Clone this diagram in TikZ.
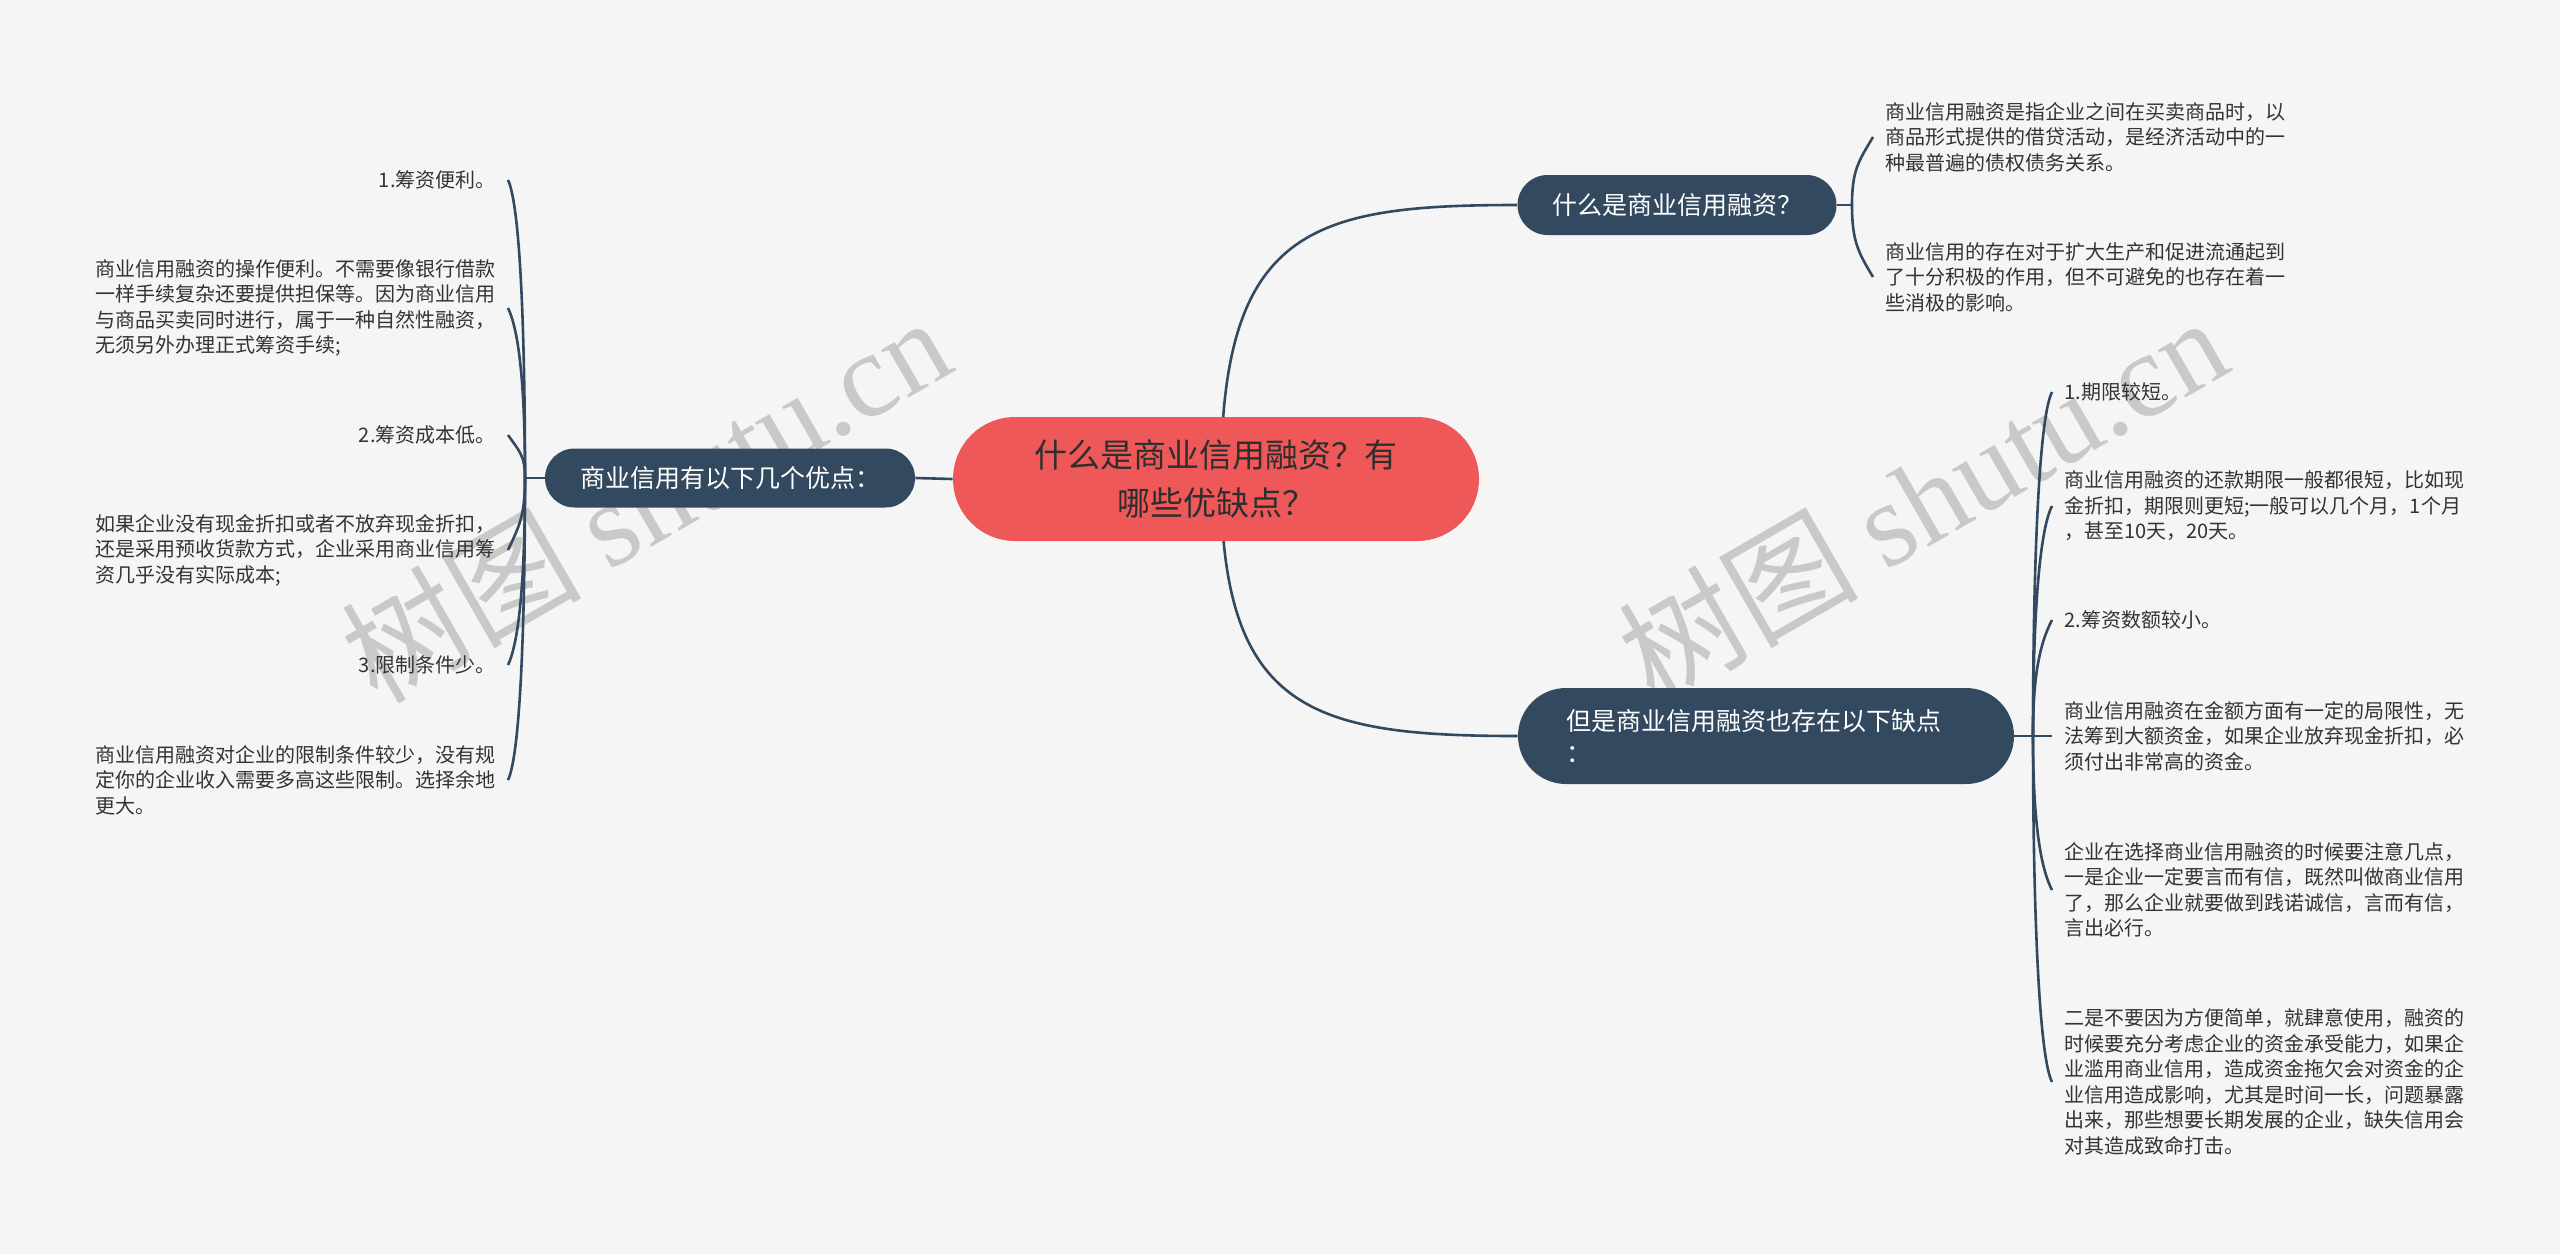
\documentclass[tikz,border=0pt]{standalone}
\usepackage{fontspec}
\setmainfont{Noto Sans CJK SC}
\newfontfamily\wmlat{Liberation Serif}
\usetikzlibrary{backgrounds}
\definecolor{bgc}{HTML}{F5F5F5}
\definecolor{rootred}{HTML}{EF5858}
\definecolor{roottext}{HTML}{2E2E2E}
\definecolor{navy}{HTML}{334960}
\definecolor{leafc}{HTML}{333333}
\definecolor{wmc}{HTML}{C9C9C9}
\tikzset{
  rootbox/.style={fill=rootred, text=roottext, minimum width=263pt, minimum height=62pt,
    rounded corners=31pt, align=center, inner sep=0pt, font=\fontsize{16.5}{24}\selectfont},
  mainbox/.style={fill=navy, text=white, inner sep=0pt, font=\fontsize{12.5}{16}\selectfont},
  leaf/.style={text=leafc, inner xsep=6pt, inner ysep=0pt, align=left, font=\fontsize{10}{12.75}\selectfont},
  link/.style={draw=navy, line width=1.3pt},
  wm/.style={text=wmc, rotate=30, inner sep=0pt, font=\fontsize{60}{60}\selectfont},
}
\begin{document}
\begin{tikzpicture}[x=0.5pt,y=-0.5pt]
\useasboundingbox (0,0) rectangle (2560,1254);
% central
\node[rootbox] (root) at (1216,479) {什么是商业信用融资？有\\哪些优缺点？};
% main topics
\node[mainbox, minimum width=159.5pt, minimum height=30pt, rounded corners=15pt] (what) at (1677,205) {什么是商业信用融资？};
\node[mainbox, minimum width=185pt, minimum height=29.5pt, rounded corners=14.75pt] (adv) at (730,478) {商业信用有以下几个优点：};
\node[mainbox, minimum width=248pt, minimum height=48pt, rounded corners=24pt, text width=200pt, align=left] (dis) at (1766,736) {但是商业信用融资也存在以下缺点\\：};
% left leaves
\node[leaf, anchor=east] (a1) at (508,180) {1.筹资便利。};
\node[leaf, anchor=east] (a2) at (508,308) {商业信用融资的操作便利。不需要像银行借款\\一样手续复杂还要提供担保等。因为商业信用\\与商品买卖同时进行，属于一种自然性融资，\\无须另外办理正式筹资手续;};
\node[leaf, anchor=east] (a3) at (508,435) {2.筹资成本低。};
\node[leaf, anchor=east] (a4) at (508,550) {如果企业没有现金折扣或者不放弃现金折扣，\\还是采用预收货款方式，企业采用商业信用筹\\资几乎没有实际成本;};
\node[leaf, anchor=east] (a5) at (508,665) {3.限制条件少。};
\node[leaf, anchor=east] (a6) at (508,780) {商业信用融资对企业的限制条件较少，没有规\\定你的企业收入需要多高这些限制。选择余地\\更大。};
% top right leaves
\node[leaf, anchor=west] (w1) at (1873,137) {商业信用融资是指企业之间在买卖商品时，以\\商品形式提供的借贷活动，是经济活动中的一\\种最普遍的债权债务关系。};
\node[leaf, anchor=west] (w2) at (1873,277) {商业信用的存在对于扩大生产和促进流通起到\\了十分积极的作用，但不可避免的也存在着一\\些消极的影响。};
% bottom right leaves
\node[leaf, anchor=west] (d1) at (2052,392) {1.期限较短。};
\node[leaf, anchor=west] (d2) at (2052,506) {商业信用融资的还款期限一般都很短，比如现\\金折扣，期限则更短;一般可以几个月，1个月\\，甚至10天，20天。};
\node[leaf, anchor=west] (d3) at (2052,620) {2.筹资数额较小。};
\node[leaf, anchor=west] (d4) at (2052,736) {商业信用融资在金额方面有一定的局限性，无\\法筹到大额资金，如果企业放弃现金折扣，必\\须付出非常高的资金。};
\node[leaf, anchor=west] (d5) at (2052,890) {企业在选择商业信用融资的时候要注意几点，\\一是企业一定要言而有信，既然叫做商业信用\\了，那么企业就要做到践诺诚信，言而有信，\\言出必行。};
\node[leaf, anchor=west] (d6) at (2052,1082) {二是不要因为方便简单，就肆意使用，融资的\\时候要充分考虑企业的资金承受能力，如果企\\业滥用商业信用，造成资金拖欠会对资金的企\\业信用造成影响，尤其是时间一长，问题暴露\\出来，那些想要长期发展的企业，缺失信用会\\对其造成致命打击。};
% spine coordinates
\coordinate (rs) at (1221,479);
\coordinate (spL) at (525,478);
\coordinate (spT) at (1852,205);
\coordinate (spB) at (2033,736);
\begin{pgfonlayer}{background}
\fill[bgc] (0,0) rectangle (2560,1254);
% watermarks
\node[wm] (wm1) at (645,498) {树图 {\wmlat shutu.cn}};
\node[wm] (wm2) at (1922,498) {树图 {\wmlat shutu.cn}};
\draw[link] (root.west) -- (adv.east);
\draw[link] (rs) .. controls (1221,229) and (1310,205) .. (what.west);
\draw[link] (rs) .. controls (1221,710) and (1310,736) .. (dis.west);
% left brace
\draw[link] (adv.west) -- (spL);
\draw[link] (spL) .. controls (525,329) and (520,205) .. (a1.east);
\draw[link] (spL) .. controls (525,393) and (520,333) .. (a2.east);
\draw[link] (spL) .. controls (525,456) and (520,452) .. (a3.east);
\draw[link] (spL) .. controls (525,514) and (520,525) .. (a4.east);
\draw[link] (spL) .. controls (525,571) and (520,640) .. (a5.east);
\draw[link] (spL) .. controls (525,629) and (520,755) .. (a6.east);
% top right brace
\draw[link] (what.east) -- (spT);
\draw[link] (spT) .. controls (1852,171) and (1858,162) .. (w1.west);
\draw[link] (spT) .. controls (1852,241) and (1858,252) .. (w2.west);
% bottom right brace
\draw[link] (dis.east) -- (spB);
\draw[link] (spB) .. controls (2033,564) and (2039,417) .. (d1.west);
\draw[link] (spB) .. controls (2033,621) and (2039,531) .. (d2.west);
\draw[link] (spB) .. controls (2033,678) and (2039,645) .. (d3.west);
\draw[link] (spB) -- (d4.west);
\draw[link] (spB) .. controls (2033,813) and (2039,865) .. (d5.west);
\draw[link] (spB) .. controls (2033,909) and (2039,1057) .. (d6.west);
\end{pgfonlayer}
\end{tikzpicture}
\end{document}
